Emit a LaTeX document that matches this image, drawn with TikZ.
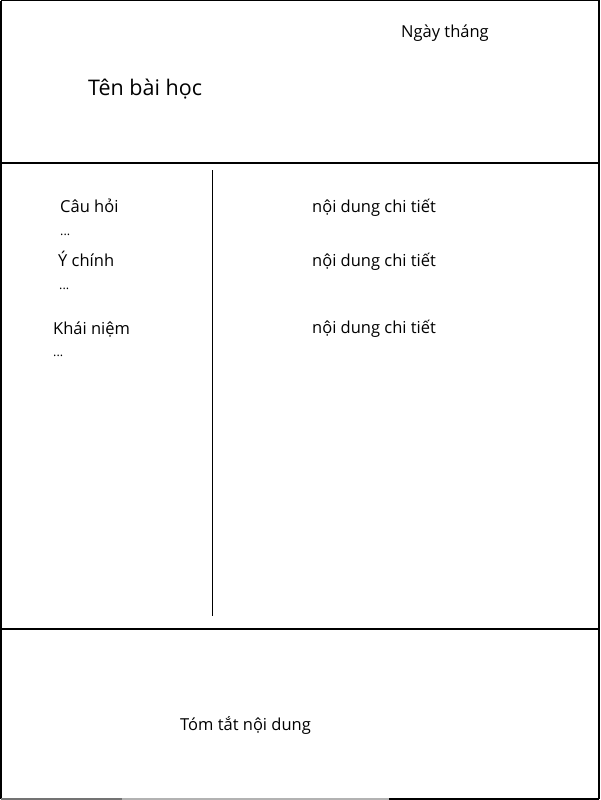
\documentclass[tikz,border=0pt]{standalone}
\usepackage{fontspec}
\setmainfont{Open Sans}
\begin{document}
\begin{tikzpicture}[x=1pt,y=-1pt,
  lbl/.style={anchor=base west,inner sep=0pt,font=\fontsize{16.5}{19}\selectfont},
  dots/.style={anchor=base west,inner sep=0pt,font=\fontsize{12.5}{15}\selectfont},
  rule/.style={draw=black,line width=1.2pt}]
\useasboundingbox (0,0) rectangle (600,800);
\fill[white] (0,0) rectangle (600,800);
% frame
\coordinate (tl) at (1,0.6);
\coordinate (tr) at (599,0.6);
\coordinate (bl) at (1,799);
\coordinate (br) at (599,799);
\draw[rule] (tl) -- (tr) -- (br);
\draw[rule] (tl) -- (bl);
\draw[draw=black!55,line width=1.2pt] (bl) -- ++(121,0) coordinate (g1);
\draw[draw=black!30,line width=1.2pt] (g1) -- ++(267,0) coordinate (g2);
\draw[rule] (g2) -- (br);
% dividers
\coordinate (h1l) at (1,163);
\coordinate (h1r) at (599,163);
\coordinate (h2l) at (1,629);
\coordinate (h2r) at (599,629);
\coordinate (vt) at (212.5,170);
\coordinate (vb) at (212.5,616);
\draw[rule] (h1l) -- (h1r);
\draw[rule] (h2l) -- (h2r);
\draw[rule] (vt) -- (vb);
% texts
\node[lbl] (date) at (401,37.7) {Ngày tháng};
\node[lbl,font=\fontsize{21.5}{25}\selectfont] (title) at (88,95) {Tên bài học};
\node[lbl] (q) at (60,212.7) {Câu hỏi};
\node[dots] (qd) at (60,235) {...};
\node[lbl] (m) at (58,266) {Ý chính};
\node[dots] (md) at (59,289) {...};
\node[lbl] (k) at (53,334) {Khái niệm};
\node[dots] (kd) at (53,356) {...};
\node[lbl] (d1) at (312,212.7) {nội dung chi tiết};
\node[lbl] (d2) at (312,266) {nội dung chi tiết};
\node[lbl] (d3) at (312,333) {nội dung chi tiết};
\node[lbl] (sum) at (180,730) {Tóm tắt nội dung};
\end{tikzpicture}
\end{document}
